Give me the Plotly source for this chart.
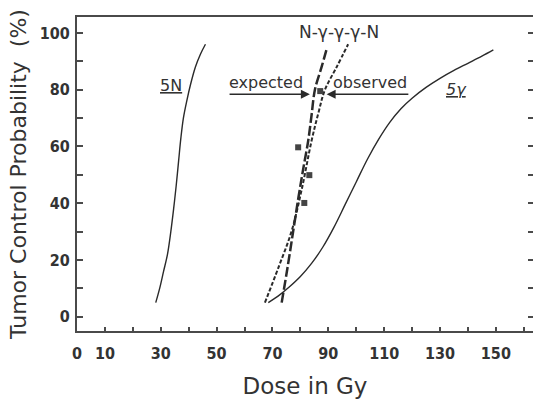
import plotly.graph_objects as go

# ---- data ----
n5_dose = [28.2, 29.6, 31.0, 32.4, 33.6, 34.6, 35.5, 36.4, 37.2, 38.1, 39.3, 40.7, 42.4, 44.2, 46.0]
n5_tcp = [5, 10, 16, 22, 30, 38, 46, 55, 63, 70, 76, 82, 88, 92.5, 96]

g5_dose = [68.5, 72, 76, 80, 84, 88, 92, 96, 100, 104, 108, 112, 116, 120, 125, 130, 135, 140, 145, 149.1]
g5_tcp = [5, 7.3, 10.5, 14.2, 18.8, 24.5, 31.5, 39.5, 47.5, 55.5, 62.5, 68.5, 73.3, 77, 80.8, 84, 86.8, 89.3, 91.8, 94]

expected_dose = [73.3, 75.5, 77.4, 79.3, 81.0, 82.8, 84.0, 85.2, 87.6, 89.6]
expected_tcp = [5, 18, 30, 42, 52, 62, 71, 80, 88, 95]

observed_dose = [67.3, 72.0, 76.8, 80.5, 84.0, 86.5, 88.8, 93.0, 97.1]
observed_tcp = [5, 17, 30, 45, 62, 72, 80, 88, 96]

obs_pts_dose = [79.2, 83.2, 81.4, 87.1]
obs_pts_tcp = [59.7, 49.9, 40.1, 79.5]

x_tickvals = list(range(0, 161, 10))
x_ticktext = ["0", "10", "", "30", "", "50", "", "70", "", "90", "", "110", "", "130", "", "150", ""]
y_tickvals = list(range(0, 101, 10))
y_ticktext = ["0", "", "20", "", "40", "", "60", "", "80", "", "100"]

INK = "#2a2a2a"
AX = "#4a4a4a"
TXT = "#333333"
SANS = "DejaVu Sans, Liberation Sans, sans-serif"
TICKF = "DejaVu Sans Condensed, Liberation Sans Narrow, Liberation Sans, Arial, sans-serif"

fig = go.Figure()
fig.add_trace(go.Scatter(x=n5_dose, y=n5_tcp, mode="lines", line=dict(color=INK, width=1.4, shape="spline"),
                         showlegend=False, hoverinfo="skip"))
fig.add_trace(go.Scatter(x=g5_dose, y=g5_tcp, mode="lines", line=dict(color=INK, width=1.4, shape="spline"),
                         showlegend=False, hoverinfo="skip"))
fig.add_trace(go.Scatter(x=observed_dose, y=observed_tcp, mode="lines",
                         line=dict(color=INK, width=2, dash="4px,2px", shape="spline"),
                         showlegend=False, hoverinfo="skip"))
fig.add_trace(go.Scatter(x=expected_dose, y=expected_tcp, mode="lines",
                         line=dict(color=INK, width=2.5, dash="10px,3px", shape="spline"),
                         showlegend=False, hoverinfo="skip"))
fig.add_trace(go.Scatter(x=obs_pts_dose, y=obs_pts_tcp, mode="markers",
                         marker=dict(symbol="square", size=6, color="#444444"),
                         showlegend=False, hoverinfo="skip"))
# invisible trace that carries the right-hand mirrored tick axis
fig.add_trace(go.Scatter(x=n5_dose, y=n5_tcp, yaxis="y2", mode="lines", line=dict(width=0),
                         opacity=0, showlegend=False, hoverinfo="skip"))

tickfont = dict(family=TICKF, size=16, color=TXT, weight="bold")

fig.update_layout(
    width=533, height=399,
    margin=dict(l=77, r=0, t=17, b=68),
    paper_bgcolor="white", plot_bgcolor="white",
    xaxis=dict(range=[0, 163.3], tickmode="array", tickvals=x_tickvals, ticktext=x_ticktext,
               ticks="inside", ticklen=4, tickwidth=1.5, tickcolor=AX,
               showline=True, linecolor=AX, linewidth=2, mirror=True,
               showgrid=False, zeroline=False,
               tickfont=tickfont, ticklabelstandoff=7,
               title=dict(text="Dose in Gy", font=dict(family=SANS, size=23, color=TXT), standoff=18)),
    yaxis=dict(range=[-5, 105.6], tickmode="array", tickvals=y_tickvals, ticktext=y_ticktext,
               ticks="inside", ticklen=6, tickwidth=1.5, tickcolor=AX,
               showline=True, linecolor=AX, linewidth=2, mirror=False,
               showgrid=False, zeroline=False,
               tickfont=tickfont, ticklabelstandoff=2,
               title=dict(text="Tumor Control Probability  (%)", font=dict(family=SANS, size=22, color=TXT),
                          standoff=7)),
    yaxis2=dict(range=[-5, 105.6], overlaying="y", side="right", tickmode="array", tickvals=y_tickvals,
                ticks="inside", ticklen=5, tickwidth=1.5, tickcolor=AX, showticklabels=False,
                showline=False, showgrid=False, zeroline=False),
)

lab = dict(family=SANS, size=16, color=TXT)
fig.add_annotation(x=94, y=100.3, text="N-γ-γ-γ-N", showarrow=False, font=dict(family=SANS, size=17, color=TXT),
                   xanchor="center", yanchor="middle")
fig.add_annotation(x=33.8, y=81.5, text="<u>5N</u>", showarrow=False, font=lab, xanchor="center", yanchor="middle")
fig.add_annotation(x=136, y=80.2, text="<u><i>5γ</i></u>", showarrow=False, font=lab, xanchor="center", yanchor="middle")
fig.add_annotation(x=67.8, y=82.6, text="expected", showarrow=False, font=lab, xanchor="center", yanchor="middle")
fig.add_annotation(x=104.9, y=82.6, text="observed", showarrow=False, font=lab, xanchor="center", yanchor="middle")
# arrows
fig.add_annotation(x=83.4, y=78.4, ax=54.1, ay=78.4, axref="x", ayref="y", xref="x", yref="y", text="",
                   showarrow=True, arrowhead=2, arrowsize=1.2, arrowwidth=1.5, arrowcolor=INK)
fig.add_annotation(x=89.4, y=78.4, ax=119.2, ay=78.4, axref="x", ayref="y", xref="x", yref="y", text="",
                   showarrow=True, arrowhead=2, arrowsize=1.2, arrowwidth=1.5, arrowcolor=INK)

fig.write_html("out.html")
